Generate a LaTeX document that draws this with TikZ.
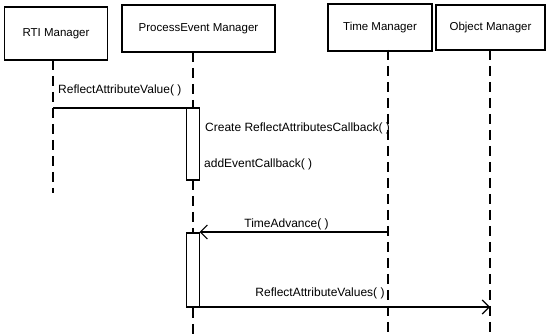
\documentclass[tikz,border=0pt]{standalone}
\usepackage{fontspec}
\setmainfont{Liberation Sans}
\usetikzlibrary{arrows.meta}
\tikzset{
  objbox/.style={draw=black, line width=1.3pt, rectangle, inner sep=0pt, font=\fontsize{11.5}{13}\selectfont},
  lifeline/.style={draw=black, line width=2pt, dash pattern=on 10pt off 6pt},
  actbox/.style={draw=black, line width=1.2pt, fill=white},
  msg/.style={draw=black, line width=1.3pt},
  msgarrow/.style={msg, -{Straight Barb[length=7pt, width=14pt, line width=1.2pt]}},
  lbl/.style={font=\fontsize{12}{14}\selectfont, inner sep=0pt, anchor=base west}
}
\begin{document}
\begin{tikzpicture}[x=1pt, y=-1pt]
\useasboundingbox (0,0) rectangle (546,336);
% object boxes
\node[objbox, minimum width=103pt, minimum height=53pt] (rti) at (56,33.5) {RTI Manager};
\node[objbox, minimum width=153pt, minimum height=47pt] (pem) at (198.5,28.5) {ProcessEvent Manager};
\node[objbox, minimum width=104pt, minimum height=47pt] (tm) at (380,27.5) {Time Manager};
\node[objbox, minimum width=109pt, minimum height=45pt] (om) at (490.5,27.5) {Object Manager};
% coordinates
\coordinate (rtiL) at (53,60);
\coordinate (rtiE) at (53,193);
\coordinate (pemL) at (193,52);
\coordinate (pemE) at (193,336);
\coordinate (tmL) at (388,50);
\coordinate (tmE) at (388,336);
\coordinate (omL) at (490,50);
\coordinate (omE) at (490,336);
% lifelines
\draw[lifeline] (rtiL) -- (rtiE);
\draw[lifeline] (pemL) -- (pemE);
\draw[lifeline] (tmL) -- (tmE);
\draw[lifeline] (omL) -- (omE);
% activation boxes
\draw[actbox] (186.5,108) rectangle (199.5,180);
\draw[actbox] (186.5,233) rectangle (199.5,307);
\coordinate (a1) at (199.5,108);
\coordinate (a2) at (199.5,232);
\coordinate (a3) at (199.5,307);
\coordinate (m1s) at (53,108);
\coordinate (m2s) at (388,232);
\coordinate (m3e) at (490,307);
% messages
\draw[msg] (m1s) -- (a1);
\node[lbl] (l1) at (58,94) {ReflectAttributeValue( )};
\node[lbl] (l2) at (205,132) {Create ReflectAttributesCallback( )};
\node[lbl] (l3) at (204,168) {addEventCallback( )};
\draw[msgarrow] (m2s) -- (a2);
\node[lbl, anchor=base] (l4) at (286.5,228) {TimeAdvance( )};
\draw[msgarrow] (a3) -- (m3e);
\node[lbl, anchor=base] (l5) at (320,297) {ReflectAttributeValues( )};
\end{tikzpicture}
\end{document}
